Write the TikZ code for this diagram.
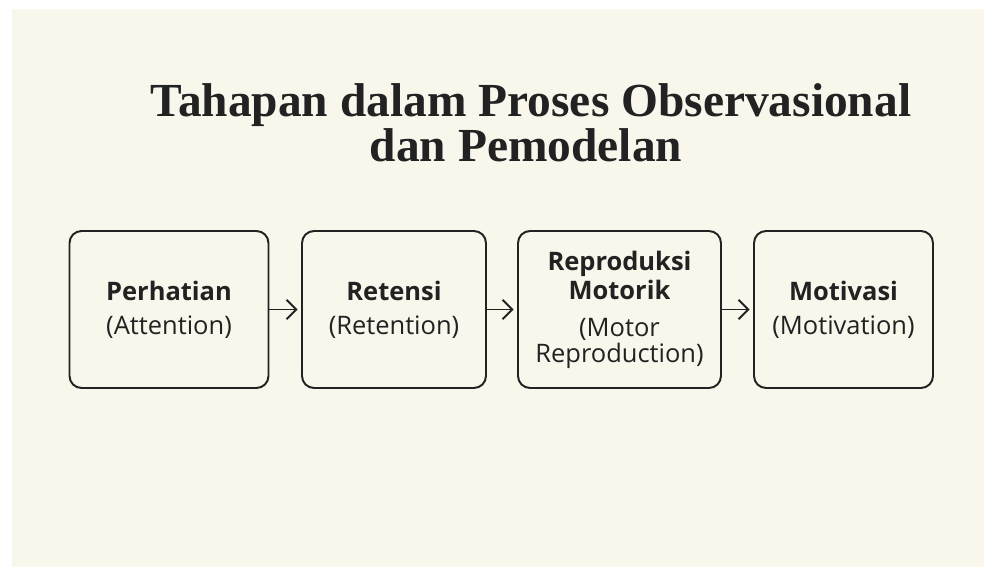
\documentclass[tikz,border=0pt]{standalone}
\usepackage{fontspec}
\setmainfont{Liberation Serif}
\newfontfamily\boxfont{Open Sans}
\usetikzlibrary{arrows.meta}

\definecolor{paper}{HTML}{F9F6EC}
\definecolor{ink}{HTML}{222222}

\begin{document}
\begin{tikzpicture}[x=0.02cm,y=-0.02cm,
  stage/.style={draw=ink, line width=1.1pt, rounded corners=0.24cm,
    minimum height=3.14cm, align=center, text=ink,
    font=\boxfont\fontsize{14.5}{13.6}\selectfont},
  flow/.style={draw=ink, line width=1.1pt, shorten >=2pt,
    -{Straight Barb[length=5.5pt,width=11pt]}},
  heading/.style={anchor=base, text=ink,
    font=\bfseries\fontsize{27}{30}\selectfont}]

% Background
\useasboundingbox (0,0) rectangle (984,567);
\fill[white] (0,0) rectangle (984,567);
\fill[paper] (12,9) rectangle (984,567);

% Title
\node[heading] (title) at (531,117) {Tahapan dalam Proses Observasional};
\node[heading] (title2) at (526,162) {dan Pemodelan};

% Stages
\node[stage, minimum width=3.98cm] (perhatian) at (169,309.5)
  {{\bfseries Perhatian}\\[5.7pt](Attention)};
\node[stage, minimum width=3.68cm] (retensi) at (394,309.5)
  {{\bfseries Retensi}\\[5.7pt](Retention)};
\node[stage, minimum width=4.06cm] (reproduksi) at (619.5,309.5)
  {{\bfseries Reproduksi}\\[1.5pt]{\bfseries Motorik}\\[7.4pt](Motor\\[0.8pt]Reproduction)};
\node[stage, minimum width=3.58cm] (motivasi) at (843.5,309.5)
  {{\bfseries Motivasi}\\[5.7pt](Motivation)};

% Arrows
\draw[flow] (perhatian) -- (retensi);
\draw[flow] (retensi) -- (reproduksi);
\draw[flow] (reproduksi) -- (motivasi);

\end{tikzpicture}
\end{document}
